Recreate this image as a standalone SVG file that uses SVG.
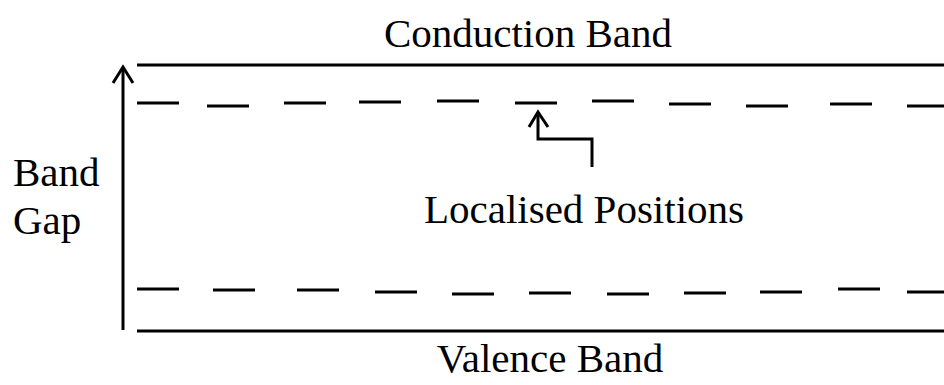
<svg xmlns="http://www.w3.org/2000/svg" width="944" height="385" viewBox="0 0 944 385">
<style>
.ln{stroke:#000;stroke-width:3;fill:none}
.ds{stroke:#000;stroke-width:3.2;fill:none}
.t{font-family:"Liberation Serif","Times New Roman",serif;font-size:41px;fill:#000}
</style>
<rect width="944" height="385" fill="#fff"/>
<g id="conduction-band">
<line class="ln" x1="137" y1="65" x2="944" y2="65"/>
<text class="t" x="528" y="47" text-anchor="middle">Conduction Band</text>
</g>
<g id="valence-band">
<line class="ln" x1="137" y1="331" x2="944" y2="331"/>
<text class="t" x="550" y="372" text-anchor="middle">Valence Band</text>
</g>
<g id="upper-localised-levels">
<path class="ds" d="M137,103h42M207,106h42M284,103h42M359,102h42M437,101h42M515,103h42M592,101h42M669,104h42M746,106h42M830,104h42M907,106h37"/>
</g>
<g id="lower-localised-levels">
<path class="ds" d="M137,289h42M213,290h42M297,290h42M375,292h42M452,294h42M529,293h42M607,294h42M684,293h42M760,292h42M838,289h42M907,292h37"/>
</g>
<g id="band-gap">
<text class="t" x="13" y="186">Band</text>
<text class="t" x="13" y="234">Gap</text>
</g>
<g id="localised-positions">
<text class="t" x="584" y="223" text-anchor="middle">Localised Positions</text>
</g>
<g id="connectors">
<line class="ln" x1="123" y1="330" x2="123" y2="68"/>
<polyline class="ln" points="113,83 123,67 133,83"/>
<polyline class="ln" points="538,112 538,139 592,139 592,167"/>
<polyline class="ln" points="529,127 538,112 548,127"/>
</g>
</svg>
